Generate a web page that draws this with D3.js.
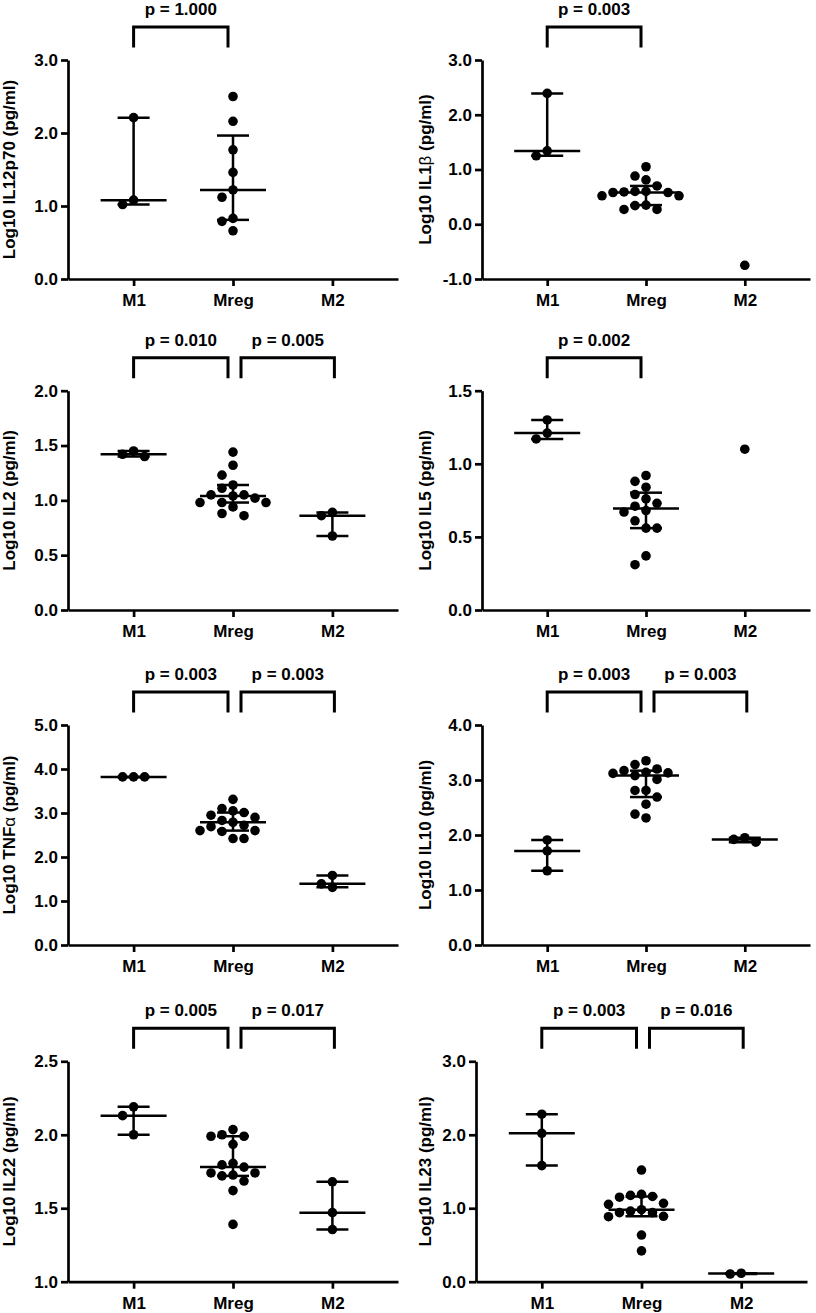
<!DOCTYPE html>
<html>
<head>
<meta charset="utf-8">
<script src="https://cdn.jsdelivr.net/npm/d3@7"></script>
<style>
  body { margin: 0; background: #fff; }
  svg text { font-family: "Liberation Sans", Arial, sans-serif; font-weight: bold; fill: #000; }
</style>
</head>
<body>
<svg></svg>
<script>
// groups on every x axis
const groups = ["M1", "Mreg", "M2"];

// values (log10 pg/ml)
const il12p70M1 = [2.21, 1.02, 1.08];
const il12p70Mreg = [2.50, 2.16, 1.77, 1.46, 1.22, 1.12, 0.83, 0.79, 0.66];
const il12p70M2 = [];
const il12p70Ticks = [0, 1, 2, 3];
const il12p70P = ["p = 1.000"];

const il1bM1 = [2.39, 1.25, 1.34];
const il1bMreg = [1.05, 0.88, 0.81, 0.70, 0.60, 0.60, 0.59, 0.58, 0.58, 0.52, 0.52, 0.35, 0.34, 0.27, 0.27];
const il1bM2 = [-0.75];
const il1bTicks = [-1, 0, 1, 2, 3];
const il1bP = ["p = 0.003"];

const il2M1 = [1.45, 1.40, 1.42];
const il2Mreg = [1.44, 1.32, 1.23, 1.14, 1.11, 1.05, 1.05, 1.04, 1.02, 0.98, 0.98, 0.98, 0.94, 0.88, 0.86];
const il2M2 = [0.89, 0.86, 0.675];
const il2Ticks = [0, 0.5, 1, 1.5, 2];
const il2P = ["p = 0.010", "p = 0.005"];

const il5M1 = [1.30, 1.21, 1.17];
const il5Mreg = [0.92, 0.88, 0.84, 0.79, 0.76, 0.73, 0.71, 0.68, 0.67, 0.61, 0.56, 0.56, 0.37, 0.31];
const il5M2 = [1.10];
const il5Ticks = [0, 0.5, 1, 1.5];
const il5P = ["p = 0.002"];

const tnfaM1 = [3.82, 3.82, 3.82];
const tnfaMreg = [3.31, 3.10, 3.05, 3.01, 2.95, 2.90, 2.83, 2.79, 2.72, 2.69, 2.60, 2.60, 2.58, 2.42, 2.42];
const tnfaM2 = [1.58, 1.39, 1.31];
const tnfaTicks = [0, 1, 2, 3, 4, 5];
const tnfaP = ["p = 0.003", "p = 0.003"];

const il10M1 = [1.91, 1.71, 1.35];
const il10Mreg = [3.35, 3.28, 3.20, 3.17, 3.14, 3.13, 3.12, 3.08, 3.01, 2.81, 2.81, 2.69, 2.56, 2.38, 2.31];
const il10M2 = [1.95, 1.87, 1.92];
const il10Ticks = [0, 1, 2, 3, 4];
const il10P = ["p = 0.003", "p = 0.003"];

const il22M1 = [2.19, 2.13, 2.00];
const il22Mreg = [2.035, 2.00, 1.99, 1.99, 1.935, 1.806, 1.795, 1.78, 1.74, 1.74, 1.726, 1.72, 1.685, 1.62, 1.39];
const il22M2 = [1.68, 1.47, 1.355];
const il22Ticks = [1, 1.5, 2, 2.5];
const il22P = ["p = 0.005", "p = 0.017"];

const il23M1 = [2.28, 2.02, 1.58];
const il23Mreg = [1.52, 1.19, 1.175, 1.16, 1.15, 1.067, 1.053, 0.98, 0.96, 0.94, 0.94, 0.89, 0.885, 0.635, 0.42];
const il23M2 = [0.115, 0.105];
const il23Ticks = [0, 1, 2, 3];
const il23P = ["p = 0.003", "p = 0.016"];

// table of panels built from the arrays above
const panels = [
  { title: ["Log10 IL12p70 (pg/ml)"], series: [il12p70M1, il12p70Mreg, il12p70M2], ticks: il12p70Ticks, p: il12p70P },
  { title: ["Log10 IL1", "β", " (pg/ml)"], series: [il1bM1, il1bMreg, il1bM2], ticks: il1bTicks, p: il1bP },
  { title: ["Log10 IL2 (pg/ml)"], series: [il2M1, il2Mreg, il2M2], ticks: il2Ticks, p: il2P },
  { title: ["Log10 IL5 (pg/ml)"], series: [il5M1, il5Mreg, il5M2], ticks: il5Ticks, p: il5P },
  { title: ["Log10 TNF", "α", "  (pg/ml)"], series: [tnfaM1, tnfaMreg, tnfaM2], ticks: tnfaTicks, p: tnfaP },
  { title: ["Log10 IL10 (pg/ml)"], series: [il10M1, il10Mreg, il10M2], ticks: il10Ticks, p: il10P },
  { title: ["Log10 IL22 (pg/ml)"], series: [il22M1, il22Mreg, il22M2], ticks: il22Ticks, p: il22P },
  { title: ["Log10 IL23 (pg/ml)"], series: [il23M1, il23Mreg, il23M2], ticks: il23Ticks, p: il23P }
];

// layout
const width = 816;
const height = 1313;
const rowTop = [60, 390.7, 725, 1061.3];
const rowBottom = [279, 610, 945, 1281.7];
const colAxis = [68, 482];
const colRight = [398, 810];
const colTitle = [15, 431];
const r = 4.8;
const step = 11;

let svg = d3.select("svg")
    .attr("width", width)
    .attr("height", height);

// GraphPad style percentile, position p*(n+1)
function quant(sorted, p) {
  const n = sorted.length;
  const pos = p * (n + 1);
  if (pos <= 1) return sorted[0];
  if (pos >= n) return sorted[n - 1];
  const i = Math.floor(pos);
  return sorted[i - 1] + (pos - i) * (sorted[i] - sorted[i - 1]);
}

// simple beeswarm: put each dot as close to centre as it can go
function swarm(values, cx, y) {
  const placed = [];
  const pts = values.map(v => ({ v: v, py: y(v) })).sort((a, b) => a.py - b.py);
  pts.forEach(pt => {
    const free = o => placed.every(q => Math.hypot(q.px - (cx + o), q.py - pt.py) >= 2 * r + 0.8);
    let off = 0;
    if (!free(0)) {
      for (let k = 1; k < 20; k++) {
        if (free(-k * step)) { off = -k * step; break; }
        if (free(k * step)) { off = k * step; break; }
      }
    }
    pt.px = cx + off;
    placed.push(pt);
  });
  return placed;
}

panels.forEach((pn, i) => {
  const row = Math.floor(i / 2);
  const col = i % 2;
  let axisX = colAxis[col];
  let rightX = colRight[col];
  if (i === 7) { axisX = 476; rightX = 807; }
  const top = rowTop[row];
  const bottom = rowBottom[row];

  const x = d3.scalePoint().domain(groups).range([axisX, rightX]).padding(0.66);
  const y = d3.scaleLinear().domain(d3.extent(pn.ticks)).range([bottom, top]);

  const g = svg.append("g");

  // y axis
  const ya = g.append("g")
      .attr("transform", `translate(${axisX},0)`)
      .call(d3.axisLeft(y).tickValues(pn.ticks).tickFormat(d => d.toFixed(1)).tickSize(7).tickSizeOuter(0).tickPadding(3));
  // x axis
  const xa = g.append("g")
      .attr("transform", `translate(0,${bottom})`)
      .call(d3.axisBottom(x).tickSize(7).tickSizeOuter(0).tickPadding(8));
  [ya, xa].forEach(a => {
    a.select(".domain").attr("stroke", "#000").attr("stroke-width", 2.7);
    a.selectAll(".tick line").attr("stroke", "#000").attr("stroke-width", 2.7);
    a.selectAll(".tick text").style("font-size", "17px").attr("fill", "#000");
  });

  // y title
  const t = g.append("text")
      .attr("transform", `translate(${colTitle[col]},${(top + bottom) / 2}) rotate(-90)`)
      .attr("text-anchor", "middle")
      .style("font-size", "17px");
  pn.title.forEach((s, j) => {
    const ts = t.append("tspan").text(s);
    if (j === 1) ts.style("font-weight", "normal");
  });

  // dots, medians and interquartile bars
  groups.forEach((grp, k) => {
    const vals = pn.series[k];
    if (!vals.length) return;
    const cx = x(grp);
    const pts = swarm(vals, cx, y);
    g.selectAll(null).data(pts).enter().append("circle")
        .attr("cx", d => d.px)
        .attr("cy", d => d.py)
        .attr("r", r)
        .attr("fill", "#000");
    if (vals.length < 2) return;
    const s = vals.slice().sort(d3.ascending);
    const med = quant(s, 0.5);
    const q1 = quant(s, 0.25);
    const q3 = quant(s, 0.75);
    const bars = g.append("g").attr("stroke", "#000").attr("stroke-width", 2.5);
    bars.append("line").attr("x1", cx).attr("x2", cx).attr("y1", y(q1)).attr("y2", y(q3));
    bars.append("line").attr("x1", cx - 16).attr("x2", cx + 16).attr("y1", y(q1)).attr("y2", y(q1));
    bars.append("line").attr("x1", cx - 16).attr("x2", cx + 16).attr("y1", y(q3)).attr("y2", y(q3));
    bars.append("line").attr("x1", cx - 33).attr("x2", cx + 33).attr("y1", y(med)).attr("y2", y(med));
  });

  // significance brackets
  const spans = [[x("M1"), x("Mreg") - 5], [x("Mreg") + 8, x("M2") + 2]];
  pn.p.forEach((label, k) => {
    const [x1, x2] = spans[k];
    g.append("path")
        .attr("d", `M${x1},${top - 12.5}V${top - 33}H${x2}V${top - 12.5}`)
        .attr("fill", "none")
        .attr("stroke", "#000")
        .attr("stroke-width", 3);
    g.append("text")
        .attr("x", (x1 + x2) / 2)
        .attr("y", top - 45)
        .attr("text-anchor", "middle")
        .style("font-size", "17px")
        .text(label);
  });
});
</script>
</body>
</html>
